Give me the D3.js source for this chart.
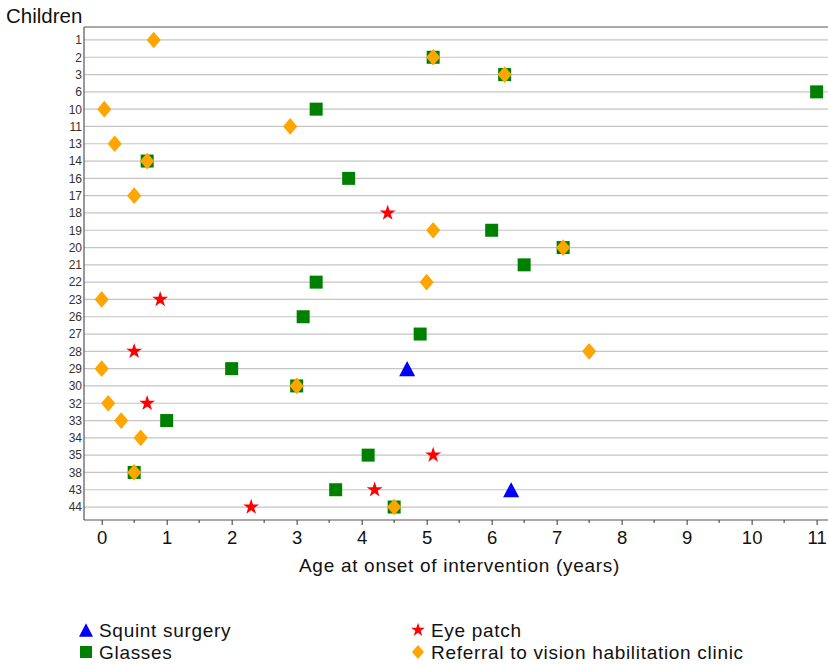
<!DOCTYPE html>
<html>
<head>
<meta charset="utf-8">
<script src="https://cdn.jsdelivr.net/npm/d3@7"></script>
<style>
  body { margin: 0; background: #fff; }
  svg { display: block; font-family: 'Liberation Sans', Arial, sans-serif; }
</style>
</head>
<body>
<svg id="chart" width="828" height="664"></svg>
<script>
// children listed top to bottom
const children = ['1', '2', '3', '6', '10', '11', '13', '14', '16', '17', '18', '19', '20', '21',
  '22', '23', '26', '27', '28', '29', '30', '32', '33', '34', '35', '38', '43', '44']

// [child, age at onset in years]
const squintSurgery = [['29', 4.7], ['43', 6.3]]
const glasses = [
  ['2', 5.1], ['3', 6.2], ['6', 11], ['10', 3.3], ['14', 0.7], ['16', 3.8], ['19', 6.0],
  ['20', 7.1], ['21', 6.5], ['22', 3.3], ['26', 3.1], ['27', 4.9], ['29', 2.0], ['30', 3.0],
  ['33', 1.0], ['35', 4.1], ['38', 0.5], ['43', 3.6], ['44', 4.5]
]
const eyePatch = [['18', 4.4], ['23', 0.9], ['28', 0.5], ['32', 0.7], ['35', 5.1], ['43', 4.2], ['44', 2.3]]
const referral = [
  ['1', 0.8], ['2', 5.1], ['3', 6.2], ['10', 0.04], ['11', 2.9], ['13', 0.2], ['14', 0.7],
  ['17', 0.5], ['19', 5.1], ['20', 7.1], ['22', 5.0], ['23', 0.0], ['28', 7.5], ['29', 0.0],
  ['30', 3.0], ['32', 0.1], ['33', 0.3], ['34', 0.6], ['38', 0.5], ['44', 4.5]
]
const xTicks = [0, 1, 2, 3, 4, 5, 6, 7, 8, 9, 10, 11]

// custom symbols: wide diamond and bbox-centred triangle
const diamond = {
  draw (ctx, size) {
    const w = Math.sqrt(size) * 0.5
    const h = w * 1.18
    ctx.moveTo(0, -h); ctx.lineTo(w, 0); ctx.lineTo(0, h); ctx.lineTo(-w, 0); ctx.closePath()
  }
}
const triangle = {
  draw (ctx, size) {
    const w = Math.sqrt(size) * 0.5
    const h = w * 0.95
    ctx.moveTo(0, -h); ctx.lineTo(w, h); ctx.lineTo(-w, h); ctx.closePath()
  }
}

const series = [
  { name: 'Squint surgery', data: squintSurgery, type: triangle, size: 256, color: '#0000ff', legend: [86, 630, 196] },
  { name: 'Glasses', data: glasses, type: d3.symbolSquare, size: 169, color: '#008000', legend: [86, 652, 144] },
  { name: 'Eye patch', data: eyePatch, type: d3.symbolStar, size: 78, color: '#ff0000', legend: [418, 630, 60] },
  { name: 'Referral to vision habilitation clinic', data: referral, type: diamond, size: 200, color: '#ffa500', legend: [418, 652, 144] }
]

const svg = d3.select('#chart')
const plotLeft = 84
const plotRight = 828
const plotTop = 27
const plotBottom = 520

const x = d3.scaleLinear().domain([-0.272, 11.175]).range([plotLeft, plotRight])
const y = d3.scalePoint().domain(children).range([plotTop, plotBottom]).padding(0.75)

// horizontal grid lines
svg.append('g')
  .selectAll('line')
  .data(children)
  .join('line')
  .attr('x1', plotLeft)
  .attr('x2', plotRight)
  .attr('y1', d => y(d))
  .attr('y2', d => y(d))
  .attr('stroke', '#c4c4c4')
  .attr('stroke-width', 1.2)

// frame: top line
svg.append('line')
  .attr('x1', plotLeft).attr('x2', plotRight).attr('y1', plotTop).attr('y2', plotTop)
  .attr('stroke', '#555').attr('stroke-width', 1.2)

// y axis
const yAxis = d3.axisLeft(y).tickSize(0).tickPadding(2)
const gy = svg.append('g')
  .attr('transform', `translate(${plotLeft}, 0)`)
  .call(yAxis)
gy.attr('font-family', null)
gy.select('.domain').attr('stroke', '#555').attr('stroke-width', 1.2)
  .attr('d', `M0,${plotTop}V${plotBottom}`)
gy.selectAll('text')
  .style('font-size', '12px')
  .attr('fill', '#333')

// x axis with minor half-year ticks
const xAxis = d3.axisBottom(x)
  .tickValues(xTicks)
  .tickSize(5)
  .tickPadding(6)
  .tickFormat(d3.format('d'))
const gx = svg.append('g')
  .attr('transform', `translate(0, ${plotBottom})`)
  .call(xAxis)
gx.attr('font-family', null)
gx.select('.domain').attr('stroke', '#555').attr('stroke-width', 1.2)
  .attr('d', `M${plotLeft},0H${plotRight}`)
gx.selectAll('.tick line').attr('stroke', '#333')
gx.selectAll('.tick text')
  .style('font-size', '18.5px')
  .attr('fill', '#111')

gx.selectAll('.minor')
  .data(xTicks.slice(0, -1).map(d => d + 0.5))
  .join('line')
  .attr('class', 'minor')
  .attr('x1', d => x(d))
  .attr('x2', d => x(d))
  .attr('y1', 0)
  .attr('y2', 3)
  .attr('stroke', '#333')

svg.append('text')
  .attr('x', 299)
  .attr('y', 572)
  .style('font-size', '19px')
  .style('letter-spacing', '0.7px')
  .attr('fill', '#111')
  .text('Age at onset of intervention (years)')

svg.append('text')
  .attr('x', 6)
  .attr('y', 23)
  .style('font-size', '20.5px')
  .attr('fill', '#111')
  .text('Children')

// points (drawn in series order, diamonds on top of squares)
series.forEach(s => {
  svg.append('g')
    .selectAll('path')
    .data(s.data)
    .join('path')
    .attr('transform', d => `translate(${x(d[1])}, ${y(d[0])})`)
    .attr('d', d3.symbol().type(s.type).size(s.size))
    .attr('fill', s.color)
})

// legend
const lg = svg.append('g')
series.forEach(s => {
  const [lx, ly, ls] = s.legend
  lg.append('path')
    .attr('transform', `translate(${lx}, ${ly})`)
    .attr('d', d3.symbol().type(s.type).size(ls))
    .attr('fill', s.color)
  lg.append('text')
    .attr('x', lx + 13)
    .attr('y', ly + 7)
    .style('font-size', '19px')
    .style('letter-spacing', '0.7px')
    .attr('fill', '#111')
    .text(s.name)
})
</script>
</body>
</html>
